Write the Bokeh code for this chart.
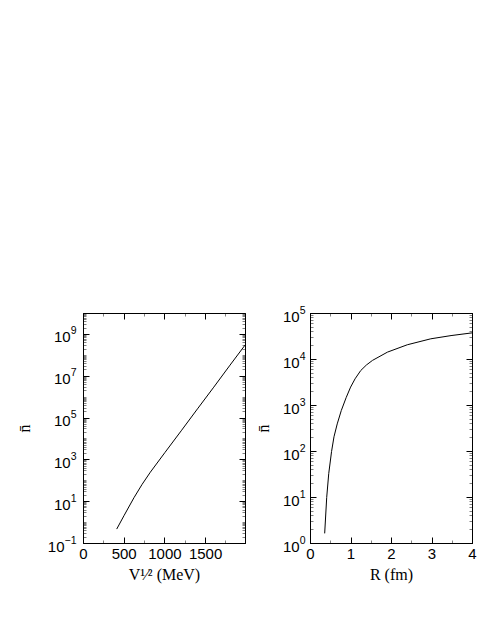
from bokeh.plotting import figure
from bokeh.layouts import row
from bokeh.models import FixedTicker, LinearAxis, LogAxis, Range1d, CustomJSTickFormatter
from bokeh.embed import file_html
from bokeh.resources import INLINE

# ---- data ----
v_sqrt = [408, 500, 620, 720, 821, 1000, 1200, 1400, 1600, 1800, 1990]          # V^{1/2} (MeV)
n_left = [0.49, 2.24, 15.5, 67.6, 257, 2240, 2.45e4, 2.75e5, 3.0e6, 3.4e7, 3.3e8]

r_fm = [0.35, 0.40, 0.45, 0.52, 0.58, 0.66, 0.76, 0.88, 0.99, 1.10, 1.24, 1.38, 1.53, 1.90, 2.39, 2.97, 3.47, 4.0]
n_right = [1.66, 10, 33, 100, 209, 398, 776, 1480, 2512, 3800, 5754, 7586, 9550, 14454, 20893, 28184, 33113, 38019]

left_x_ticks = [0, 500, 1000, 1500]
left_x_minor = [250, 750, 1250, 1750]
left_y_ticks = [1e-1, 1e1, 1e3, 1e5, 1e7, 1e9]
right_x_ticks = [0, 1, 2, 3, 4]
right_x_minor = [0.5, 1.5, 2.5, 3.5]
right_y_ticks = [1, 10, 100, 1e3, 1e4, 1e5]

left_x_label = "V\u00b9\u2044\u00b2 (MeV)"
right_x_label = "R (fm)"
y_label = "n\u0304"


def log_minor(lo_exp, hi_exp):
    out = []
    for d in range(lo_exp, hi_exp):
        for k in range(1, 10):
            out.append(k * 10.0 ** d)
    return out


SANS = "Liberation Sans"
SERIF = "Liberation Serif"


def style_axis(ax, ticker, labels=True):
    ax.ticker = ticker
    ax.major_tick_in = 6
    ax.major_tick_out = 0
    ax.minor_tick_in = 3
    ax.minor_tick_out = 0
    ax.axis_line_color = "black"
    ax.major_tick_line_color = "black"
    ax.minor_tick_line_color = "black"
    ax.minor_tick_line_width = 0.5
    ax.major_label_text_font = SANS
    ax.major_label_text_color = "black"
    ax.major_label_text_font_size = "15px"
    if labels:
        ax.major_label_standoff = 5
    else:
        ax.formatter = CustomJSTickFormatter(code="return ''")
        ax.major_label_standoff = 0
        ax.axis_label_standoff = 0
    ax.axis_label_text_font = SERIF
    ax.axis_label_text_font_style = "normal"
    ax.axis_label_text_font_size = "16px"
    ax.axis_label_text_color = "black"


def make_fig(xr, yr, bl, br):
    p = figure(x_range=Range1d(*xr), y_range=Range1d(*yr), y_axis_type="log",
               frame_width=162, frame_height=230,
               min_border_left=bl, min_border_right=br, min_border_top=313, min_border_bottom=75,
               output_backend="svg", toolbar_location=None)
    p.xgrid.visible = False
    p.ygrid.visible = False
    p.outline_line_color = "black"
    p.background_fill_color = "white"
    p.border_fill_color = "white"
    return p


# ---- left panel ----
p1 = make_fig((0, 1990), (0.1, 1e10), 83, 5)
xt1 = FixedTicker(ticks=left_x_ticks, minor_ticks=left_x_minor)
yt1 = FixedTicker(ticks=left_y_ticks, minor_ticks=log_minor(-1, 10))
style_axis(p1.xaxis[0], xt1)
style_axis(p1.yaxis[0], yt1)
p1.yaxis[0].major_label_standoff = 7
p1.xaxis[0].axis_label = left_x_label
p1.xaxis[0].axis_label_standoff = 4
p1.yaxis[0].axis_label = y_label
p1.yaxis[0].axis_label_standoff = 12
top1 = LinearAxis()
style_axis(top1, xt1, labels=False)
p1.add_layout(top1, "above")
right1 = LogAxis()
style_axis(right1, yt1, labels=False)
p1.add_layout(right1, "right")
p1.line(v_sqrt, n_left, line_color="black", line_width=1)

# ---- right panel ----
p2 = make_fig((0, 4), (1, 1e5), 60, 8)
xt2 = FixedTicker(ticks=right_x_ticks, minor_ticks=right_x_minor)
yt2 = FixedTicker(ticks=right_y_ticks, minor_ticks=log_minor(0, 5))
style_axis(p2.xaxis[0], xt2)
style_axis(p2.yaxis[0], yt2)
p2.xaxis[0].axis_label = right_x_label
p2.xaxis[0].axis_label_standoff = 4
p2.yaxis[0].axis_label = y_label
p2.yaxis[0].axis_label_standoff = 8
top2 = LinearAxis()
style_axis(top2, xt2, labels=False)
p2.add_layout(top2, "above")
right2 = LogAxis()
style_axis(right2, yt2, labels=False)
p2.add_layout(right2, "right")
p2.line(r_fm, n_right, line_color="black", line_width=1)

layout = row(p1, p2)
open("out.html", "w").write(file_html(layout, INLINE))
